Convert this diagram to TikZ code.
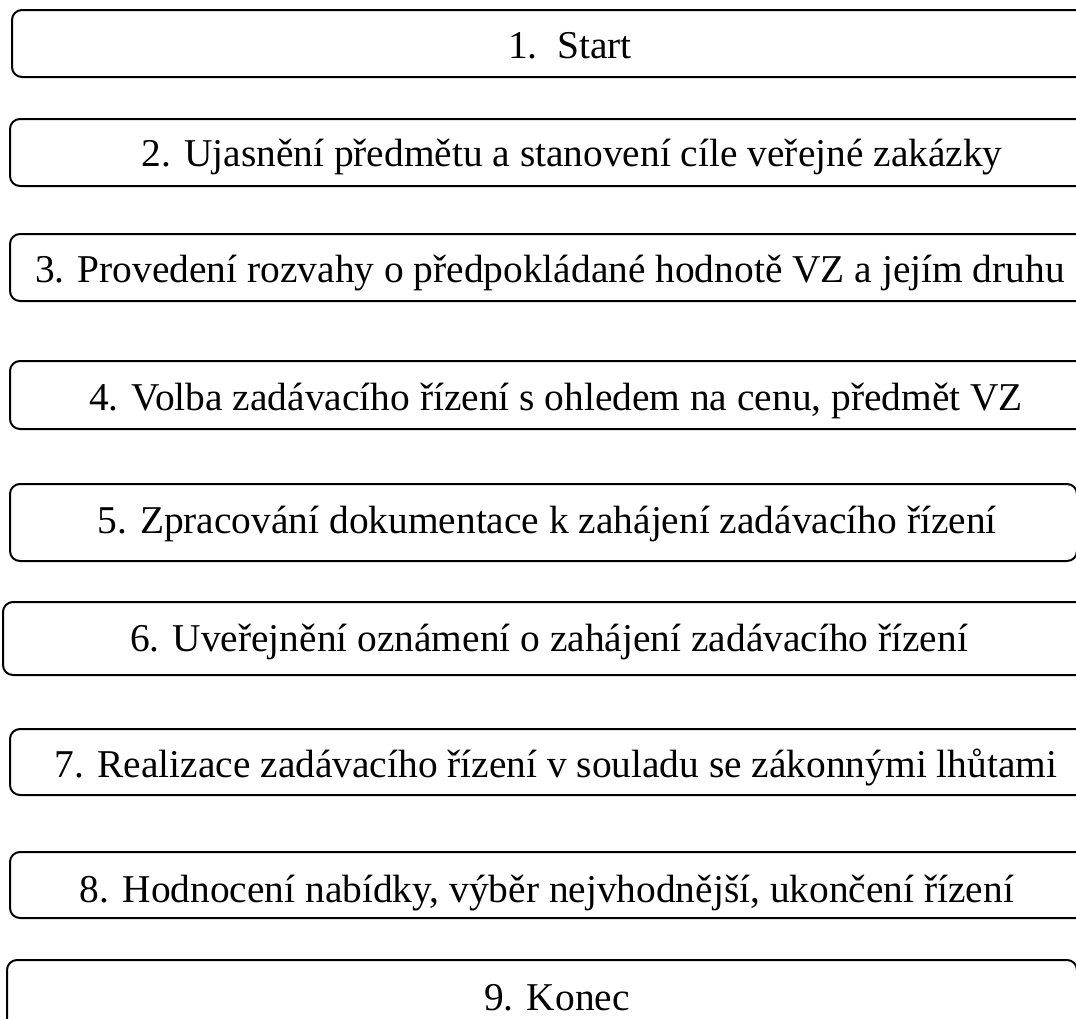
\documentclass[tikz,border=0pt]{standalone}
\usepackage{fontspec}
\setmainfont{Liberation Serif}
\tikzset{
  stepbox/.style={draw=black,line width=1pt,rounded corners=5pt},
  steptext/.style={inner sep=0pt,anchor=base,
    font=\fontsize{19.7}{22}\selectfont}
}
\begin{document}
\begin{tikzpicture}[x=0.5pt,y=-0.5pt]
   \useasboundingbox (0,0) rectangle (1076,1018);
   % boxes, left to right, top to bottom
   \draw[stepbox] (12,10) rectangle (1090,77);
   \draw[stepbox] (10,119) rectangle (1090,186);
   \draw[stepbox] (10,234) rectangle (1090,301);
   \draw[stepbox] (10,361) rectangle (1090,429);
   \draw[stepbox] (10,484) rectangle (1077,561);
   \draw[stepbox] (3,602) rectangle (1090,675);
   \draw[stepbox] (10,729) rectangle (1090,795);
   \draw[stepbox] (10,852) rectangle (1090,918);
   \draw[stepbox] (7,960) rectangle (1077,1040);
   % texts (at their base lines)
   \node[steptext] (s1) at (570,58) {1.\ \ Start};
   \node[steptext] (s2) at (572,166) {2. Ujasnění předmětu a stanovení cíle veřejné zakázky};
   \node[steptext] (s3) at (550,282) {3. Provedení rozvahy o předpokládané hodnotě VZ a jejím druhu};
   \node[steptext] (s4) at (556,410) {4. Volba zadávacího řízení s ohledem na cenu, předmět VZ};
   \node[steptext] (s5) at (547,533) {5. Zpracování dokumentace k zahájení zadávacího řízení};
   \node[steptext] (s6) at (549,651) {6. Uveřejnění oznámení o zahájení zadávacího řízení};
   \node[steptext] (s7) at (556,777) {7. Realizace zadávacího řízení v souladu se zákonnými lhůtami};
   \node[steptext] (s8) at (547,902) {8. Hodnocení nabídky, výběr nejvhodnější, ukončení řízení};
   \node[steptext] (s9) at (557,1010) {9. Konec};
 \end{tikzpicture}
\end{document}
